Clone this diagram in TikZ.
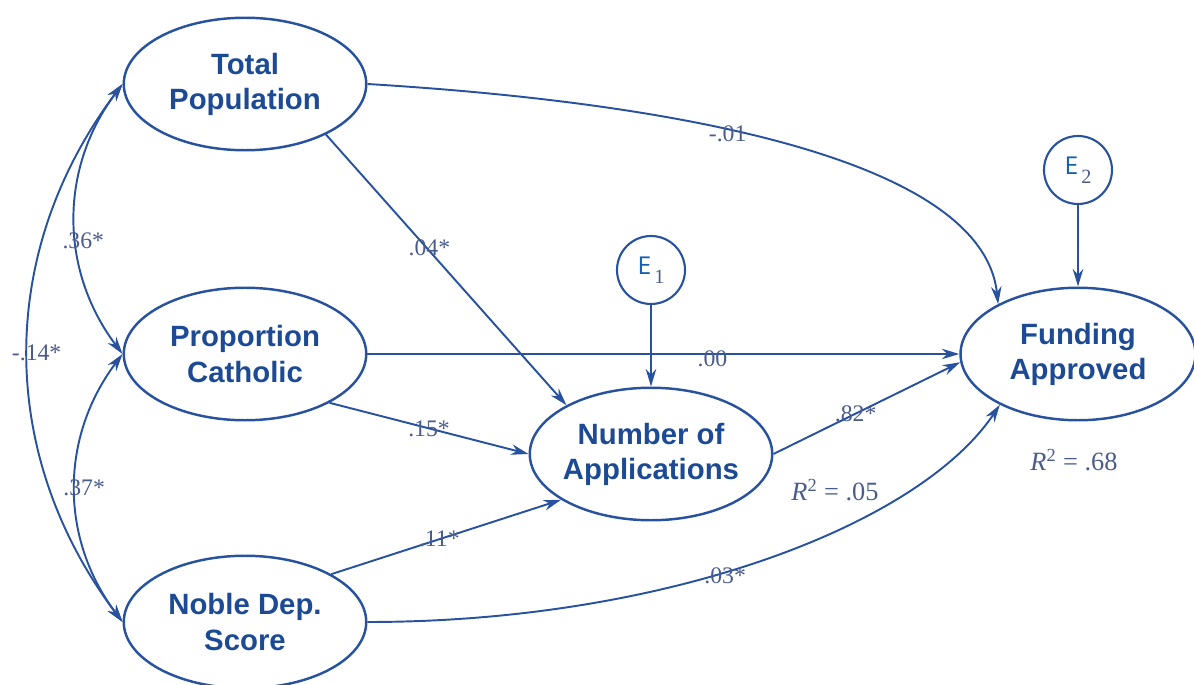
\documentclass[tikz,border=0pt]{standalone}
\usepackage{fontspec}
\setmainfont{Liberation Serif}
\setsansfont{Liberation Sans}
\newfontfamily\efont{Open Sans}
\usetikzlibrary{shapes.geometric,arrows.meta}
\definecolor{pathblue}{RGB}{40,82,158}
\definecolor{textblue}{RGB}{28,74,148}
\definecolor{labgray}{RGB}{75,92,140}
\definecolor{eblue}{RGB}{20,95,175}
\begin{document}
\begin{tikzpicture}[x=0.02cm,y=0.02cm]
            \def\w{4.85cm}
            \def\h{2.65cm}
            \tikzset{v/.style={draw=pathblue,line width=1.4pt,ellipse,minimum width=\w,minimum height=\h,inner xsep=-12pt,inner ysep=0pt,align=center,text=textblue,font=\sffamily\bfseries\fontsize{16.7}{20}\selectfont},
                err/.style={draw=pathblue,line width=1.2pt,circle,minimum size=1.36cm,inner sep=0pt},
                lab/.style={text=labgray,font=\fontsize{13.5}{14}\selectfont,inner sep=1pt},
                a/.style={pathblue,line width=1.1pt},
                >={Stealth[length=10pt,width=6pt]}}
            \useasboundingbox(0,0)rectangle(1194,684);
            \path(245,600)node[v](TP){Total\\Population}++(0,-270)node[v](PC){Proportion\\Catholic}++(0,-268)node[v](ND){Noble Dep.\\Score};
            \path(651,230)node[v](NA){Number of\\Applications}++(0,184)node[err](E1){{\efont\color{eblue}\fontsize{14}{14}\selectfont E}\,\raisebox{-1.1ex}{\color{labgray}\fontsize{11.5}{12}\selectfont 1}};
            \path(1078,330)node[v,minimum width=4.7cm](FA){Funding\\Approved}++(0,184)node[err](E2){{\efont\color{eblue}\fontsize{14}{14}\selectfont E}\,\raisebox{-1.1ex}{\color{labgray}\fontsize{11.5}{12}\selectfont 2}};
            \foreach \x/\y in {
                TP.-32/NA.150,PC.-30/NA.west,ND.29/NA.207,
                PC.east/FA.west,NA.east/FA.184,
                E1/NA,E2/FA}
            \draw[->,a](\x)--(\y);
            \path(TP.-32)--(NA.150)node[lab,pos=0.43,yshift=2pt]{.04*}(PC.-30)--(NA.west)node[lab,pos=0.5]{.15*}(ND.29)--(NA.207)node[lab,pos=0.47]{.11*}
            (PC.east)--(FA.west)node[lab,pos=0.583,yshift=-3pt]{.00}
            (NA.east)--(FA.184)node[lab,pos=0.44]{.82*};
            % curved paths to funding
            \draw[->,a](TP.east)..controls+(330,-20)and+(-15,140)..(FA.148)node[lab,pos=0.4,yshift=-2pt]{-.01};
            \draw[->,a](ND.east)..controls+(300,0)and+(-80,-120)..(FA.213)node[lab,pos=0.44,yshift=-2pt]{.03*};
            % correlations
            \draw[<->,a](TP.west)to[bend right=37]node[lab,pos=0.58,xshift=4pt]{.36*}(PC.west);
            \draw[<->,a](PC.west)to[bend right=37]node[lab,pos=0.5,xshift=5pt]{.37*}(ND.west);
            \draw[<->,a](TP.west)to[bend right=37]node[lab,pos=0.5,xshift=5pt]{-.14*}(ND.west);
            \path(835,194)node[lab,font=\fontsize{15}{16}\selectfont](R1){\textit{R}\textsuperscript{2} = .05}(1074,224)node[lab,font=\fontsize{15}{16}\selectfont](R2){\textit{R}\textsuperscript{2} = .68};
\end{tikzpicture}
\end{document}
